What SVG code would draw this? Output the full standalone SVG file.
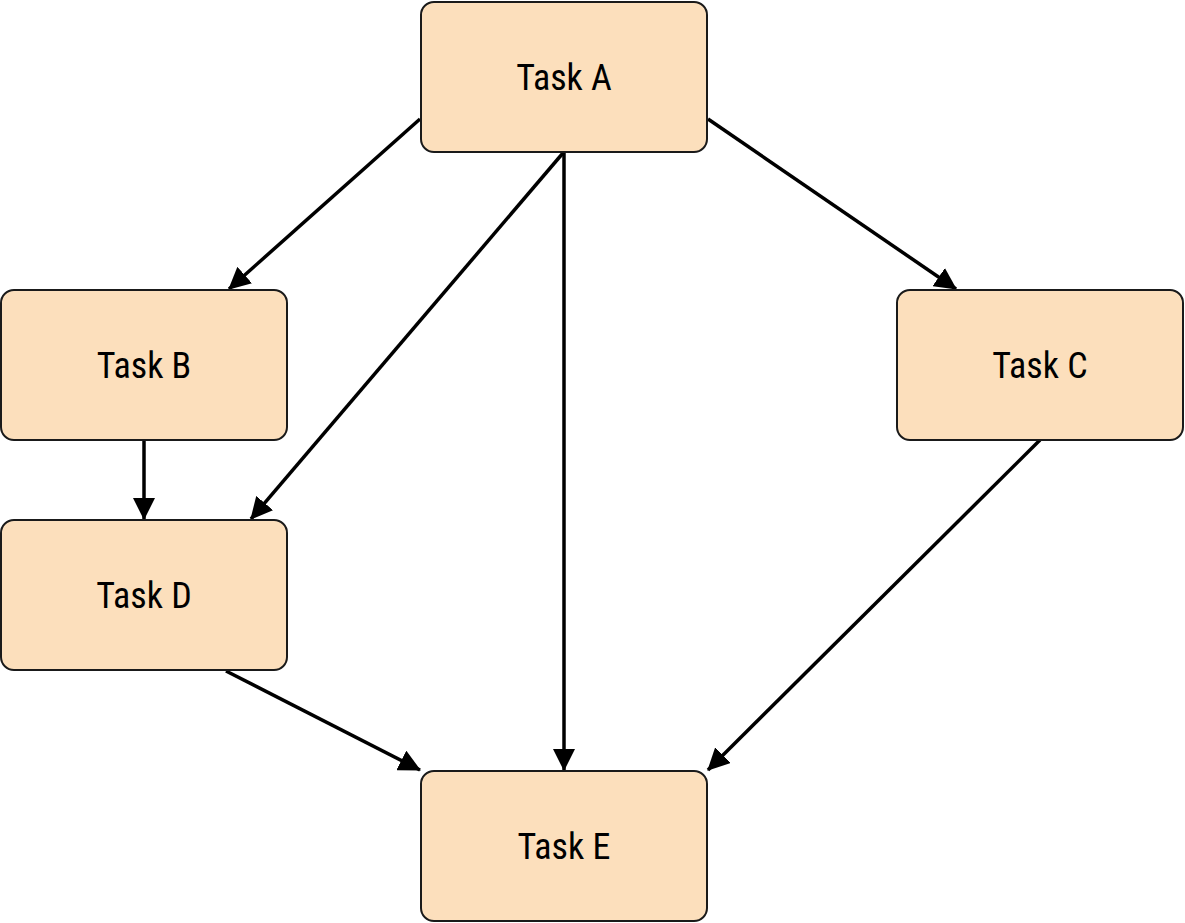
<svg xmlns="http://www.w3.org/2000/svg" width="1185" height="923" viewBox="0 0 1185 923">
<defs>
<marker id="arr" markerUnits="userSpaceOnUse" markerWidth="22" markerHeight="22" viewBox="0 0 22 22" refX="21" refY="11" orient="auto">
<path d="M0,0 L22,11 L0,22 z" fill="#000"/>
</marker>
<style>
.box{fill:#FCDFBC;stroke:#1a1a1a;stroke-width:2}
.lbl{font-family:"Liberation Sans Narrow","Roboto Condensed","Liberation Sans",sans-serif;font-size:36px;fill:#000;text-anchor:middle}
.edge{stroke:#000;stroke-width:3.5;fill:none;marker-end:url(#arr)}
</style>
</defs>
<rect width="1185" height="923" fill="#fff"/>
<g id="connectors">
<line class="edge" x1="420" y1="119" x2="229" y2="289"/>
<line class="edge" x1="563" y1="153" x2="251" y2="519"/>
<line class="edge" x1="564" y1="153" x2="564" y2="770"/>
<line class="edge" x1="708" y1="119" x2="956" y2="289"/>
<line class="edge" x1="144" y1="440" x2="144" y2="519"/>
<line class="edge" x1="1040" y1="440" x2="708" y2="770"/>
<line class="edge" x1="226" y1="671" x2="420" y2="770"/>
</g>
<g id="taskA"><rect class="box" x="421" y="2" width="286" height="150" rx="13"/><text class="lbl" x="564" y="90">Task A</text></g>
<g id="taskB"><rect class="box" x="1" y="290" width="286" height="150" rx="13"/><text class="lbl" x="144" y="378">Task B</text></g>
<g id="taskC"><rect class="box" x="897" y="290" width="286" height="150" rx="13"/><text class="lbl" x="1040" y="378">Task C</text></g>
<g id="taskD"><rect class="box" x="1" y="520" width="286" height="150" rx="13"/><text class="lbl" x="144" y="608">Task D</text></g>
<g id="taskE"><rect class="box" x="421" y="771" width="286" height="150" rx="13"/><text class="lbl" x="564" y="859">Task E</text></g>
</svg>
